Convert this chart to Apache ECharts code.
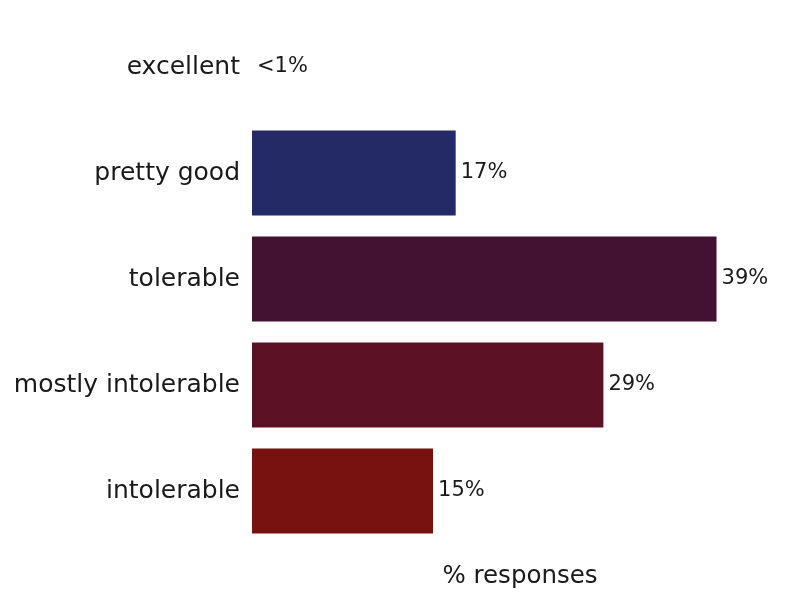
<!DOCTYPE html>
<html><head><meta charset="utf-8">
<script src="https://cdn.jsdelivr.net/npm/echarts@6/dist/echarts.min.js"></script>
<style>html,body{margin:0;padding:0;background:#fff}#c{width:800px;height:603px}</style>
</head><body><div id="c"></div>
<script>
const categories = ['excellent', 'pretty good', 'tolerable', 'mostly intolerable', 'intolerable'];
const values = [0, 17.1, 39, 29.5, 15.2];
const valueLabels = ['<1%', '17%', '39%', '29%', '15%'];
const colors = ['#232a66', '#232a66', '#431132', '#5c1224', '#781210'];

const FONT = 'DejaVu Sans';
const chart = echarts.init(document.getElementById('c'));
chart.setOption({
  animation: false,
  grid: { left: 252, right: 12, top: 14, bottom: 59 },
  xAxis: {
    type: 'value', min: 0, max: 45,
    axisLine: { show: false }, axisTick: { show: false }, axisLabel: { show: false }, splitLine: { show: false },
    name: '% responses', nameLocation: 'middle', nameGap: 20,
    nameTextStyle: { fontFamily: FONT, fontSize: 24.5, color: '#1a1a1a' }
  },
  yAxis: {
    type: 'category', data: categories, inverse: true,
    axisLine: { show: false }, axisTick: { show: false },
    axisLabel: { fontFamily: FONT, fontSize: 25, color: '#1a1a1a', margin: 12, padding: [4, 0, 0, 0] }
  },
  series: [{
    type: 'bar',
    barCategoryGap: '20%',
    data: values.map((v, i) => ({ value: v, itemStyle: { color: colors[i] } })),
    label: {
      show: true, position: 'right', distance: 5,
      fontFamily: FONT, fontSize: 21, color: '#1a1a1a',
      formatter: p => valueLabels[p.dataIndex]
    }
  }]
});
</script></body></html>
